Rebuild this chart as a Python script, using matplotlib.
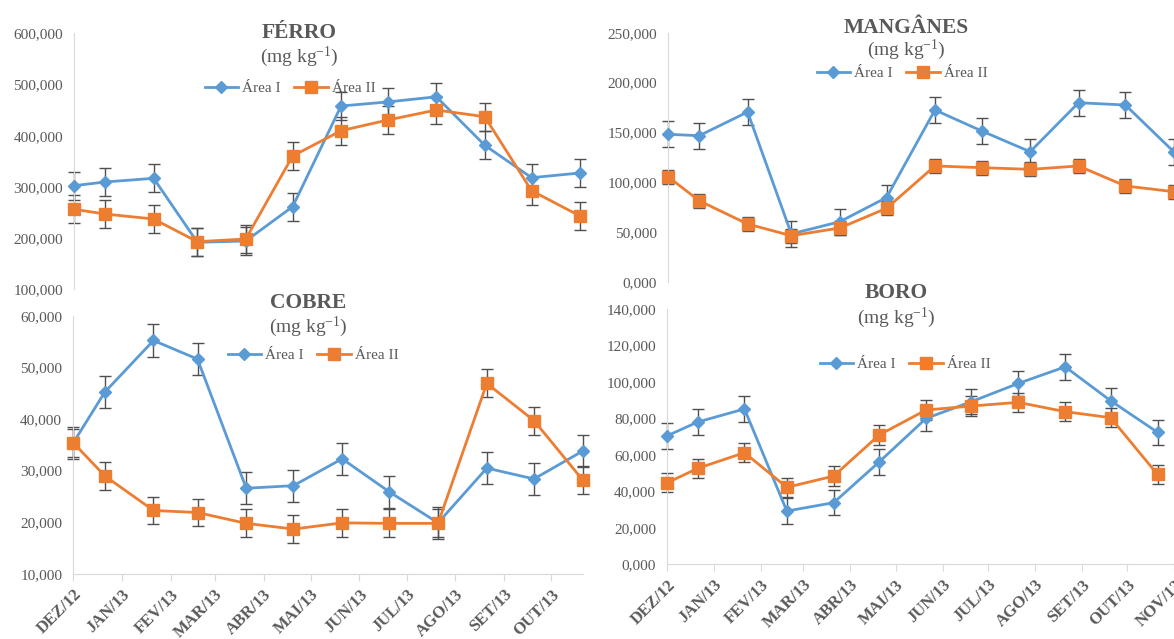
import matplotlib
matplotlib.use("Agg")
import matplotlib.pyplot as plt
import matplotlib.ticker as mticker
import pandas as pd

plt.rcParams['font.family'] = ['Liberation Serif', 'DejaVu Serif']
plt.rcParams['mathtext.default'] = 'regular'

# datas das coletas e rotulos dos meses
datas = pd.to_datetime(["2012-12-01", "2012-12-21", "2013-01-21", "2013-02-18",
                        "2013-03-21", "2013-04-20", "2013-05-21", "2013-06-20",
                        "2013-07-21", "2013-08-21", "2013-09-20", "2013-10-21"])
meses = pd.date_range("2012-12-01", "2013-11-01", freq="MS")
rotulos = ["DEZ/12", "JAN/13", "FEV/13", "MAR/13", "ABR/13", "MAI/13",
           "JUN/13", "JUL/13", "AGO/13", "SET/13", "OUT/13", "NOV/13"]

# Ferro (mg kg-1)
ferro_a1 = [302.4, 309.6, 316.8, 191.8, 194.4, 261.4, 458.0, 466.0, 476.0, 381.3, 318.0, 327.2]
ferro_a2 = [256.3, 247.0, 237.3, 193.0, 198.3, 360.4, 409.8, 430.7, 450.2, 437.1, 292.6, 243.2]
ferro_err1 = 27.5
ferro_err2 = 27.5

# Manganes
mn_a1 = [148.0, 146.6, 170.4, 48.0, 60.2, 84.5, 172.4, 151.3, 130.5, 179.7, 177.4, 130.5]
mn_a2 = [105.4, 81.3, 57.9, 46.2, 53.9, 73.7, 116.2, 114.5, 112.8, 116.2, 96.1, 90.4]
mn_err1 = 13.0
mn_err2 = 7.0

# Cobre
cu_a1 = [35.4, 45.2, 55.2, 51.6, 26.6, 27.1, 32.3, 25.9, 19.9, 30.5, 28.4, 33.8]
cu_a2 = [35.4, 29.0, 22.3, 21.9, 19.8, 18.7, 19.9, 19.8, 19.8, 46.9, 39.7, 28.2]
cu_err1 = 3.1
cu_err2 = 2.7

# Boro
b_a1 = [70.5, 78.0, 85.2, 29.2, 33.8, 56.1, 80.0, 89.2, 99.2, 108.3, 89.7, 72.4]
b_a2 = [44.7, 52.6, 61.2, 42.2, 48.4, 70.9, 84.6, 86.8, 88.8, 83.7, 80.4, 49.3]
b_err1 = 7.0
b_err2 = 5.3

W, H = 1174, 639
AZUL = '#5B9BD5'
LARANJA = '#ED7D31'
CINZA = '#595959'
EIXO = '#D9D9D9'

fig = plt.figure(figsize=(W / 100, H / 100), dpi=100)


def eixo_px(left, top, right, bottom):
    return fig.add_axes([left / W, 1 - bottom / H, (right - left) / W, (bottom - top) / H])


def painel(ax, a1, a2, e1, e2, ylim, passo, xfim, mostra_x):
    for vals, err in [(a1, e1), (a2, e2)]:
        eb = ax.errorbar(datas, vals, yerr=err, fmt='none', ecolor='#505050',
                         elinewidth=1, capsize=4, capthick=1, zorder=2)
        for art in eb.get_children():
            art.set_clip_on(False)
    ax.plot(datas, a1, color=AZUL, marker='D', ms=6, lw=2, label='Área I',
            clip_on=False, zorder=3)
    ax.plot(datas, a2, color=LARANJA, marker='s', ms=8.5, lw=2, label='Área II',
            clip_on=False, zorder=4)
    ax.yaxis.set_major_locator(mticker.MultipleLocator(passo))
    ax.yaxis.set_major_formatter(mticker.FuncFormatter(lambda v, p: f"{v:.3f}".replace('.', ',')))
    ax.tick_params(axis='y', length=0, pad=8, labelsize=11, labelcolor=CINZA)
    for s in ['top', 'right']:
        ax.spines[s].set_visible(False)
    ax.spines['left'].set_color(EIXO)
    if mostra_x:
        ax.spines['bottom'].set_color(EIXO)
        ax.set_xticks(meses)
        ax.set_xticklabels(rotulos, rotation=45, ha='right', va='top',
                           rotation_mode='anchor', fontweight='bold')
        ax.tick_params(axis='x', direction='out', length=5, color=EIXO,
                       labelsize=12, labelcolor=CINZA, pad=4)
    else:
        ax.spines['bottom'].set_visible(False)
        ax.set_xticks([])
    # limites depois dos ticks (set_xticks amplia a vista)
    ax.set_xlim(datas[0], xfim)
    ax.set_ylim(*ylim)


def titulo(nome, cx, y_nome, y_unid, lx, ly, ax):
    fig.text(cx / W, 1 - y_nome / H, nome, ha='center', va='baseline',
             fontsize=15.5, fontweight='bold', color=CINZA)
    fig.text(cx / W, 1 - y_unid / H, r"(mg kg$^{-1}$)", ha='center', va='baseline',
             fontsize=14, color=CINZA)
    ax.legend(loc='center', bbox_to_anchor=(lx / W, 1 - ly / H),
              bbox_transform=fig.transFigure, ncol=2, frameon=False, fontsize=11,
              handlelength=2.2, handletextpad=0.25, columnspacing=0.9,
              labelcolor=CINZA)


fim_esq = datas[-1]

ax_fe = eixo_px(74, 33.3, 580, 289.3)
painel(ax_fe, ferro_a1, ferro_a2, ferro_err1, ferro_err2, (100, 600), 100, fim_esq, False)
titulo("FÉRRO", 299, 38.3, 62.5, 290, 88.3, ax_fe)

ax_mn = eixo_px(668, 32.7, 668 + 330 * 1.561, 281.7)
painel(ax_mn, mn_a1, mn_a2, mn_err1, mn_err2, (0, 250), 50,
       datas[0] + pd.Timedelta(days=330), False)
titulo("MANGÂNES", 906, 32.7, 55.5, 902, 73.3, ax_mn)

ax_cu = eixo_px(73.3, 315.7, 582.7, 574)
painel(ax_cu, cu_a1, cu_a2, cu_err1, cu_err2, (10, 60), 10, fim_esq, True)
titulo("COBRE", 308, 308.3, 331.7, 313, 355, ax_cu)

ax_b = eixo_px(667.3, 309, 667.3 + 336 * 1.513, 564.3)
painel(ax_b, b_a1, b_a2, b_err1, b_err2, (0, 140), 20,
       datas[0] + pd.Timedelta(days=336), True)
titulo("BORO", 896, 298.5, 323.5, 905, 364, ax_b)

fig.savefig("out.png", dpi=100)
